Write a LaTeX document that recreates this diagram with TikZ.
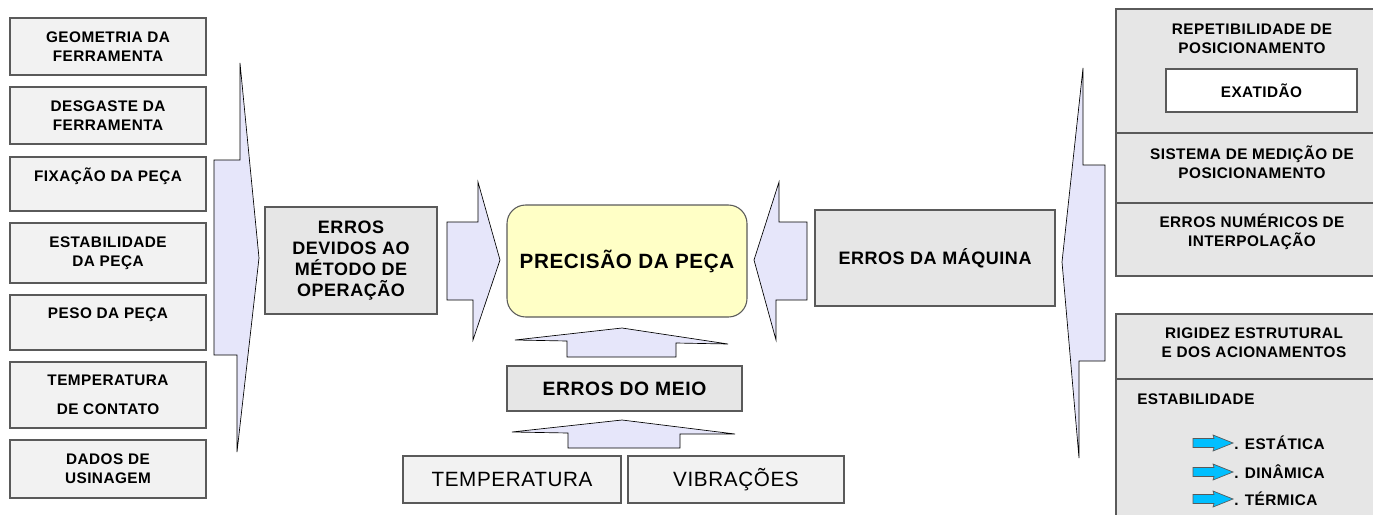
\documentclass[tikz,border=0pt]{standalone}
\usepackage{fontspec}
\setmainfont[LetterSpace=3]{Liberation Sans}
\definecolor{boxgray}{HTML}{F2F2F2}
\definecolor{errgray}{HTML}{E6E6E6}
\definecolor{arrowblue}{HTML}{E6E6FA}
\definecolor{precyellow}{HTML}{FFFFC6}
\definecolor{cyanarrow}{HTML}{00BFFF}
\definecolor{edge}{HTML}{5A5A5A}
\tikzset{
  lbox/.style={draw=edge, fill=boxgray, line width=0.8pt, minimum width=147pt, inner sep=0pt, align=center, font=\fontsize{11.5}{14.5}\selectfont\bfseries},
  ebox/.style={draw=edge, fill=errgray, line width=0.8pt, inner sep=0pt, align=center, font=\fontsize{13.5}{15.75}\selectfont\bfseries},
  fbox/.style={draw=edge, fill=boxgray, line width=0.8pt, inner sep=0pt, minimum height=35.25pt, font=\fontsize{15.5}{18}\selectfont},
  blockarrow/.style={draw=black, fill=arrowblue, line width=0.5pt},
  panel/.style={draw=edge, fill=errgray, line width=0.8pt},
  rtxt/.style={align=center, inner sep=0pt, font=\fontsize{11.5}{14}\selectfont\bfseries},
}

\begin{document}
\begin{tikzpicture}[x=0.75pt, y=-0.75pt]
	\useasboundingbox (0,0) rectangle (1373,514);
	\clip (0,0) rectangle (1373,514);

	% causes on the left
	\node[lbox, minimum height=42.75pt] (geo) at (108,46.5) {GEOMETRIA DA\\FERRAMENTA};
	\node[lbox, minimum height=42.75pt] (des) at (108,115.5) {DESGASTE DA\\FERRAMENTA};
	\node[lbox, minimum height=40.5pt] (fix) at (108,184) {FIXAÇÃO DA PEÇA\\\mbox{}};
	\node[lbox, minimum height=45pt] (est) at (108,253) {ESTABILIDADE\\DA PEÇA};
	\node[lbox, minimum height=41.25pt] (pes) at (108,322.5) {PESO DA PEÇA\\\mbox{}};
	\node[lbox, minimum height=49.5pt] (tmp) at (108,395) {TEMPERATURA\\[7pt]DE CONTATO};
	\node[lbox, minimum height=43.5pt] (dad) at (108,469) {DADOS DE\\USINAGEM};

	\draw[blockarrow] (240,63) -- (240,160) -- (214,160) -- (214,355) -- (237,355) -- (237,452) -- (259,258) -- cycle;

	% middle row
	\node[ebox, minimum width=129pt, minimum height=80.25pt] (met) at (351,260.5) {ERROS\\DEVIDOS AO\\MÉTODO DE\\OPERAÇÃO};
	\node[draw=edge, fill=precyellow, line width=0.8pt, rounded corners=14pt, minimum width=180pt, minimum height=84pt, font=\fontsize{15.5}{18}\selectfont\bfseries] (prec) at (627,261) {PRECISÃO DA PEÇA};
	\node[ebox, minimum width=180pt, minimum height=72pt] (maq) at (935,258) {ERROS DA MÁQUINA};

	\draw[blockarrow] (447,222) -- (478,222) -- (478,182) -- (500,260) -- (473,340) -- (473,300) -- (447,300) -- cycle;
	\draw[blockarrow] (807,222) -- (779,222) -- (779,182) -- (754,260) -- (776,340) -- (776,300) -- (807,300) -- cycle;

	% environment
	\draw[blockarrow] (567,357) -- (567,341) -- (515,340) -- (622,328) -- (728,344) -- (676,343) -- (676,357) -- cycle;
	\node[ebox, minimum width=176.25pt, minimum height=33.75pt, font=\fontsize{14.5}{17}\selectfont\bfseries] (meio) at (624.5,388.5) {ERROS DO MEIO};
	\draw[blockarrow] (568,448) -- (568,433) -- (512,432) -- (622,420) -- (735,434) -- (680,434) -- (680,448) -- cycle;
	\node[fbox, minimum width=163.5pt] (temp) at (512,479.5) {TEMPERATURA};
	\node[fbox, minimum width=162pt] (vib) at (736,479.5) {VIBRAÇÕES};

	% machine on the right
	\draw[blockarrow] (1083,68) -- (1083,165) -- (1105,165) -- (1105,361) -- (1079,361) -- (1079,458) -- (1062,262) -- cycle;

	\draw[panel] (1116,9) rectangle (1388,133);
	\draw[panel] (1116,133) rectangle (1388,203);
	\draw[panel] (1116,203) rectangle (1388,276);
	\node[rtxt] (rep) at (1252,39) {REPETIBILIDADE DE\\POSICIONAMENTO};
	\node[draw=edge, fill=white, line width=0.8pt, minimum width=143.25pt, minimum height=32.25pt, font=\fontsize{11.5}{14}\selectfont\bfseries] (exa) at (1261.5,90.5) {EXATIDÃO};
	\node[rtxt] (sis) at (1252,162) {SISTEMA DE MEDIÇÃO DE\\POSICIONAMENTO};
	\node[rtxt] (num) at (1252,232) {ERROS NUMÉRICOS DE\\INTERPOLAÇÃO};

	\draw[panel] (1116,314) rectangle (1388,379);
	\draw[panel] (1116,379) rectangle (1388,530);
	\node[rtxt] (rig) at (1254,343) {RIGIDEZ ESTRUTURAL\\E DOS ACIONAMENTOS};
	\node[rtxt, anchor=west] (stab) at (1137,399) {ESTABILIDADE};
	\foreach \y/\t [count=\i] in {443/ESTÁTICA, 472/DINÂMICA, 499/TÉRMICA}{
		\draw[draw=edge, fill=cyanarrow, line width=0.5pt] (1193,\y-4.5) -- (1214,\y-4.5) -- (1213,\y-8) -- (1233,\y) -- (1213,\y+8) -- (1214,\y+4.5) -- (1193,\y+4.5) -- cycle;
		\node[rtxt, anchor=west] (kind\i) at (1234,\y) {. \t};
	}
\end{tikzpicture}
\end{document}
